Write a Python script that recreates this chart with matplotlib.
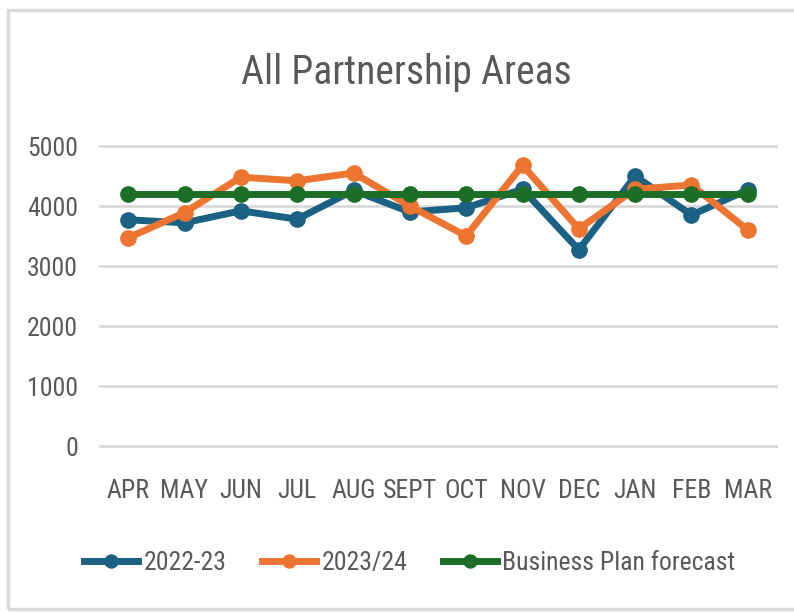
import matplotlib.pyplot as plt
from matplotlib.patches import Rectangle
from matplotlib import font_manager

months = ["APR", "MAY", "JUN", "JUL", "AUG", "SEPT", "OCT", "NOV", "DEC", "JAN", "FEB", "MAR"]
fy_2022_23 = [3770, 3720, 3920, 3780, 4260, 3900, 3970, 4280, 3270, 4500, 3850, 4270]
fy_2023_24 = [3470, 3890, 4480, 4420, 4550, 4000, 3500, 4680, 3620, 4280, 4350, 3600]
forecast = [4200] * 12

names = {f.name for f in font_manager.fontManager.ttflist}
narrow = [n for n in ["Liberation Sans Narrow", "Roboto Condensed"] if n in names]
font = narrow + ["DejaVu Sans"]
grey = "#595959"

fig = plt.figure(figsize=(7.94, 6.13), dpi=100)
fig.patches.append(Rectangle((8 / 794, 4 / 613), 1.2, 599 / 613, transform=fig.transFigure,
                             fill=False, edgecolor="#d9d9d9", linewidth=2.5))
ax = fig.add_axes([100 / 794, 167 / 613, 676 / 794, 300 / 613])

x = range(len(months))
ax.plot(x, fy_2022_23, color="#1a6184", lw=5, marker="o", ms=11, label="2022-23", zorder=3)
ax.plot(x, fy_2023_24, color="#ed7531", lw=5, marker="o", ms=11, label="2023/24", zorder=4)
ax.plot(x, forecast, color="#1c6e27", lw=5, marker="o", ms=11, label="Business Plan forecast", zorder=5)

ax.set_xlim(-0.5, 11.5)
ax.set_ylim(0, 5000)
ax.set_yticks(range(0, 5001, 1000))
ax.set_xticks(list(x))
ax.set_xticklabels(months)
ax.grid(axis="y", color="#d9d9d9", lw=2)
for gl in ax.get_ygridlines():
    gl.set_clip_on(False)
ax.set_axisbelow(True)
for s in ax.spines.values():
    s.set_visible(False)
ax.tick_params(length=0, labelcolor=grey, labelsize=18.5)
ax.tick_params(axis="y", pad=16)
ax.tick_params(axis="x", pad=24)
for lab in ax.get_xticklabels() + ax.get_yticklabels():
    lab.set_family(font)
    lab.set_fontstretch("condensed")

fig.text(406 / 794, 1 - 73 / 613, "All Partnership Areas", ha="center", va="center",
         fontsize=28.5, color=grey, family=font, fontstretch="condensed")

leg = fig.legend(loc="center", bbox_to_anchor=(410 / 794, 1 - 563 / 613), ncol=3, frameon=False,
                 prop={"family": font, "size": 18.5, "stretch": "condensed"}, handlelength=2.1,
                 handletextpad=0.2, columnspacing=1.4, labelcolor=grey, markerscale=0.85)

fig.savefig("out.png", dpi=100)
